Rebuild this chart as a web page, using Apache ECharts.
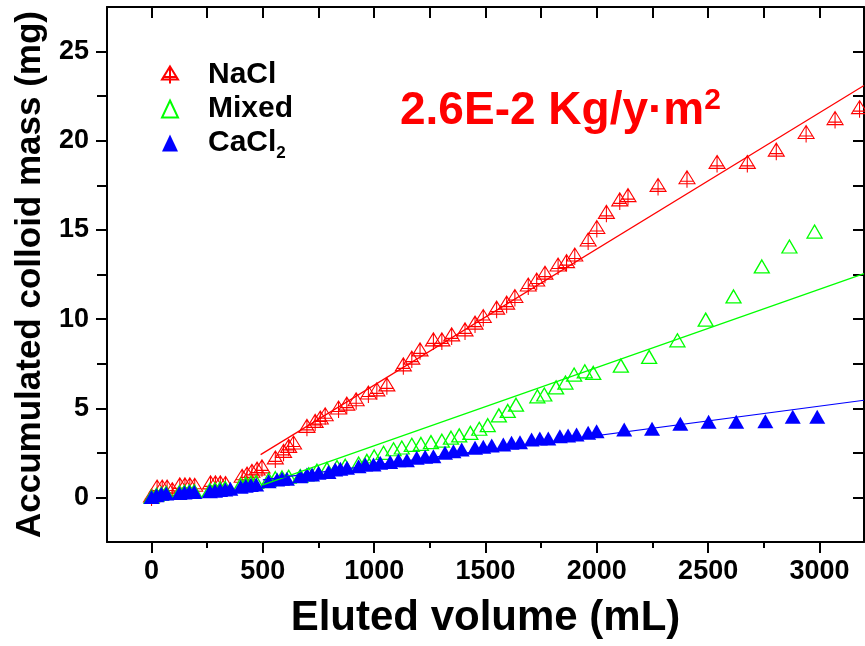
<!DOCTYPE html>
<html><head><meta charset="utf-8">
<script src="https://cdn.jsdelivr.net/npm/echarts@6/dist/echarts.min.js"></script>
<style>html,body{margin:0;padding:0;background:#fff}#c{width:865px;height:646px}</style>
</head><body><div id="c"></div>
<script>
// ---- data ----
const naclVolume = [0, 25, 48, 70, 93, 127, 150, 172, 194, 265, 287, 309, 332, 407, 429, 451, 474, 496, 556, 593, 616, 638, 698, 735, 758, 780, 840, 877, 919, 974, 1012, 1057, 1131, 1169, 1206, 1266, 1304, 1348, 1408, 1453, 1490, 1550, 1595, 1632, 1692, 1730, 1767, 1826, 1864, 1901, 1961, 2000, 2043, 2103, 2140, 2275, 2405, 2540, 2676, 2806, 2940, 3070, 3180];
const naclMass = [0.0, 0.5, 0.5, 0.5, 0.35, 0.62, 0.62, 0.62, 0.6, 0.73, 0.73, 0.73, 0.7, 1.1, 1.23, 1.38, 1.51, 1.63, 2.13, 2.5, 2.78, 2.97, 3.9, 4.18, 4.37, 4.55, 4.93, 5.15, 5.39, 5.77, 5.95, 6.23, 7.35, 7.73, 8.19, 8.75, 8.75, 9.03, 9.31, 9.69, 10.06, 10.53, 10.81, 11.18, 11.83, 12.11, 12.49, 12.95, 13.14, 13.51, 14.35, 15.05, 15.9, 16.6, 16.84, 17.41, 17.84, 18.7, 18.7, 19.39, 20.38, 21.16, 21.77];

const mixedVolume = [0, 22, 44, 66, 125, 148, 170, 192, 262, 285, 308, 331, 400, 423, 446, 470, 526, 556, 586, 616, 668, 706, 743, 788, 833, 870, 930, 967, 1000, 1042, 1087, 1124, 1169, 1210, 1255, 1304, 1345, 1382, 1432, 1472, 1510, 1560, 1600, 1637, 1733, 1764, 1817, 1859, 1898, 1946, 1984, 2108, 2235, 2362, 2489, 2614, 2741, 2865, 2978];
const mixedMass = [0.05, 0.15, 0.22, 0.25, 0.3, 0.32, 0.34, 0.35, 0.42, 0.46, 0.5, 0.53, 0.7, 0.76, 0.82, 0.87, 1.0, 1.08, 1.12, 1.16, 1.2, 1.3, 1.5, 1.6, 1.7, 1.78, 1.9, 2.05, 2.3, 2.5, 2.7, 2.8, 2.95, 3.0, 3.1, 3.18, 3.35, 3.48, 3.62, 3.85, 4.05, 4.6, 4.85, 5.2, 5.67, 5.77, 6.17, 6.44, 6.89, 7.07, 6.98, 7.39, 7.88, 8.81, 9.97, 11.27, 12.95, 14.07, 14.91];

const caclVolume = [0, 22, 44, 66, 125, 148, 170, 192, 262, 285, 308, 331, 354, 400, 423, 446, 470, 526, 564, 586, 608, 668, 698, 721, 750, 795, 825, 848, 878, 930, 960, 997, 1027, 1072, 1109, 1147, 1191, 1229, 1266, 1318, 1356, 1393, 1453, 1490, 1528, 1580, 1617, 1655, 1707, 1744, 1782, 1834, 1871, 1909, 1961, 1999, 2123, 2248, 2375, 2502, 2626, 2757, 2880, 2990];
const caclMass = [0.02, 0.12, 0.2, 0.22, 0.25, 0.28, 0.3, 0.3, 0.35, 0.38, 0.42, 0.45, 0.48, 0.6, 0.65, 0.7, 0.73, 0.91, 1.01, 1.05, 1.05, 1.19, 1.29, 1.29, 1.38, 1.42, 1.57, 1.61, 1.66, 1.75, 1.85, 1.85, 1.94, 1.98, 2.09, 2.09, 2.22, 2.28, 2.31, 2.5, 2.59, 2.69, 2.78, 2.84, 2.91, 2.97, 3.06, 3.1, 3.25, 3.3, 3.3, 3.43, 3.47, 3.53, 3.62, 3.71, 3.81, 3.85, 4.13, 4.24, 4.24, 4.27, 4.52, 4.52];

// linear fit lines (end points)
const naclFitVolume = [490, 3200];
const naclFitMass = [2.4, 23.1];
const mixedFitVolume = [500, 3200];
const mixedFitMass = [0.7, 12.55];
const caclFitVolume = [500, 3200];
const caclFitMass = [0.98, 5.45];

// axis ticks / labels
const xMajorTicks = [0, 500, 1000, 1500, 2000, 2500, 3000];
const xMinorTicks = [250, 750, 1250, 1750, 2250, 2750];
const xAllTicks = [0, 250, 500, 750, 1000, 1250, 1500, 1750, 2000, 2250, 2500, 2750, 3000];
const yMajorTicks = [0, 5, 10, 15, 20, 25];
const yMinorTicks = [2.5, 7.5, 12.5, 17.5, 22.5];
const yAllTicks = [0, 2.5, 5, 7.5, 10, 12.5, 15, 17.5, 20, 22.5, 25];

const seriesNames = ['NaCl', 'Mixed', 'CaCl2'];
const xTitle = 'Eluted volume (mL)';
const yTitle = 'Accumulated colloid mass (mg)';
const annotation = '2.6E-2 Kg/y·m';

// ---- chart ----
const FONT = 'Liberation Sans';
const zip = (a, b) => a.map((v, i) => [v, b[i]]);
const blk = '#000';
const redMarker = 'path://M8,0 L16,13 L0,13 Z M8,0 L8,17 M1,10.5 L15,10.5';
const plain = v => String(v);

const chart = echarts.init(document.getElementById('c'), null, {renderer: 'canvas'});

const xBase = {type: 'value', min: -200, max: 3200, splitLine: {show: false}, gridIndex: 0};
const yBase = {type: 'value', min: -2.5, max: 27.5, splitLine: {show: false}, gridIndex: 0};

chart.setOption({
  animation: false,
  backgroundColor: '#fff',
  grid: {left: 107, right: 1, top: 7, bottom: 104, containLabel: false},
  xAxis: [
    Object.assign({}, xBase, {
      position: 'bottom',
      axisLine: {show: true, onZero: false, lineStyle: {color: blk, width: 2}},
      axisTick: {show: true, inside: false, length: 11, customValues: xMajorTicks, lineStyle: {color: blk, width: 2}},
      axisLabel: {show: true, customValues: xMajorTicks, formatter: plain, margin: 16, color: blk, fontSize: 27, fontWeight: 'bold', fontFamily: FONT},
      name: xTitle, nameLocation: 'middle', nameGap: 55,
      nameTextStyle: {color: blk, fontSize: 42, fontWeight: 'bold', fontFamily: FONT}
    }),
    Object.assign({}, xBase, {
      position: 'bottom',
      axisLine: {show: false, onZero: false},
      axisTick: {show: true, inside: false, length: 6, customValues: xMinorTicks, lineStyle: {color: blk, width: 2}},
      axisLabel: {show: false}
    }),
    Object.assign({}, xBase, {
      position: 'top',
      axisLine: {show: true, onZero: false, lineStyle: {color: blk, width: 2}},
      axisTick: {show: true, inside: true, length: 11, customValues: xAllTicks, lineStyle: {color: blk, width: 2}},
      axisLabel: {show: false}
    })
  ],
  yAxis: [
    Object.assign({}, yBase, {
      position: 'left',
      axisLine: {show: true, onZero: false, lineStyle: {color: blk, width: 2}},
      axisTick: {show: true, inside: false, length: 11, customValues: yMajorTicks, lineStyle: {color: blk, width: 2}},
      axisLabel: {show: true, customValues: yMajorTicks, formatter: plain, margin: 18, color: blk, fontSize: 27, fontWeight: 'bold', fontFamily: FONT},
      name: yTitle, nameLocation: 'middle', nameGap: 58, nameRotate: 90,
      nameTextStyle: {color: blk, fontSize: 35, fontWeight: 'bold', fontFamily: FONT}
    }),
    Object.assign({}, yBase, {
      position: 'left',
      axisLine: {show: false, onZero: false},
      axisTick: {show: true, inside: false, length: 10, customValues: yMinorTicks, lineStyle: {color: blk, width: 2}},
      axisLabel: {show: false}
    }),
    Object.assign({}, yBase, {
      position: 'right',
      axisLine: {show: true, onZero: false, lineStyle: {color: blk, width: 2}},
      axisTick: {show: true, inside: true, length: 11, customValues: yAllTicks, lineStyle: {color: blk, width: 2}},
      axisLabel: {show: false}
    })
  ],
  legend: {
    data: seriesNames,
    orient: 'vertical',
    left: 156, top: 55,
    itemWidth: 16, itemHeight: 17, itemGap: 4,
    formatter: n => n === 'CaCl2' ? '{m|CaCl}{s|2}' : '{m|' + n + '}',
    textStyle: {
      color: blk, fontSize: 30, fontWeight: 'bold', fontFamily: FONT, padding: [0, 0, 0, 25],
      rich: {
        m: {color: blk, fontSize: 30, fontWeight: 'bold', fontFamily: FONT, lineHeight: 34},
        s: {color: blk, fontSize: 17, fontWeight: 'bold', fontFamily: FONT, verticalAlign: 'top', padding: [21, 0, 0, 0]}
      }
    }
  },
  graphic: [{
    type: 'text', left: 400, top: 86, z: 100,
    style: {
      text: '{a|' + annotation + '}{b|2}',
      rich: {
        a: {fill: '#ff0000', fontSize: 46, fontWeight: 'bold', fontFamily: FONT, lineHeight: 50},
        b: {fill: '#ff0000', fontSize: 30, fontWeight: 'bold', fontFamily: FONT, verticalAlign: 'top', lineHeight: 30}
      }
    }
  }],
  series: [
    {
      name: 'NaCl', type: 'scatter', xAxisIndex: 0, yAxisIndex: 0,
      data: zip(naclVolume, naclMass),
      symbol: redMarker, symbolSize: [16, 17],
      itemStyle: {color: 'rgba(0,0,0,0)', borderColor: '#ff0000', borderWidth: 1.1, opacity: 1},
      emphasis: {disabled: true}
    },
    {
      name: 'NaCl fit', type: 'line', xAxisIndex: 0, yAxisIndex: 0,
      data: zip(naclFitVolume, naclFitMass), showSymbol: false, symbol: 'none',
      lineStyle: {color: '#ff0000', width: 1.2}, emphasis: {disabled: true}
    },
    {
      name: 'Mixed', type: 'scatter', xAxisIndex: 0, yAxisIndex: 0,
      data: zip(mixedVolume, mixedMass),
      symbol: 'triangle', symbolSize: [15, 13],
      itemStyle: {color: 'rgba(0,0,0,0)', borderColor: '#00ff00', borderWidth: 1.3, opacity: 1},
      emphasis: {disabled: true}
    },
    {
      name: 'Mixed fit', type: 'line', xAxisIndex: 0, yAxisIndex: 0,
      data: zip(mixedFitVolume, mixedFitMass), showSymbol: false, symbol: 'none',
      lineStyle: {color: '#00ff00', width: 1.2}, emphasis: {disabled: true}
    },
    {
      name: 'CaCl2', type: 'scatter', xAxisIndex: 0, yAxisIndex: 0,
      data: zip(caclVolume, caclMass),
      symbol: 'triangle', symbolSize: [16, 14],
      itemStyle: {color: '#0000ff', opacity: 1},
      emphasis: {disabled: true}
    },
    {
      name: 'CaCl2 fit', type: 'line', xAxisIndex: 0, yAxisIndex: 0,
      data: zip(caclFitVolume, caclFitMass), showSymbol: false, symbol: 'none',
      lineStyle: {color: '#0000ff', width: 1.2}, emphasis: {disabled: true}
    }
  ]
});
</script></body></html>
